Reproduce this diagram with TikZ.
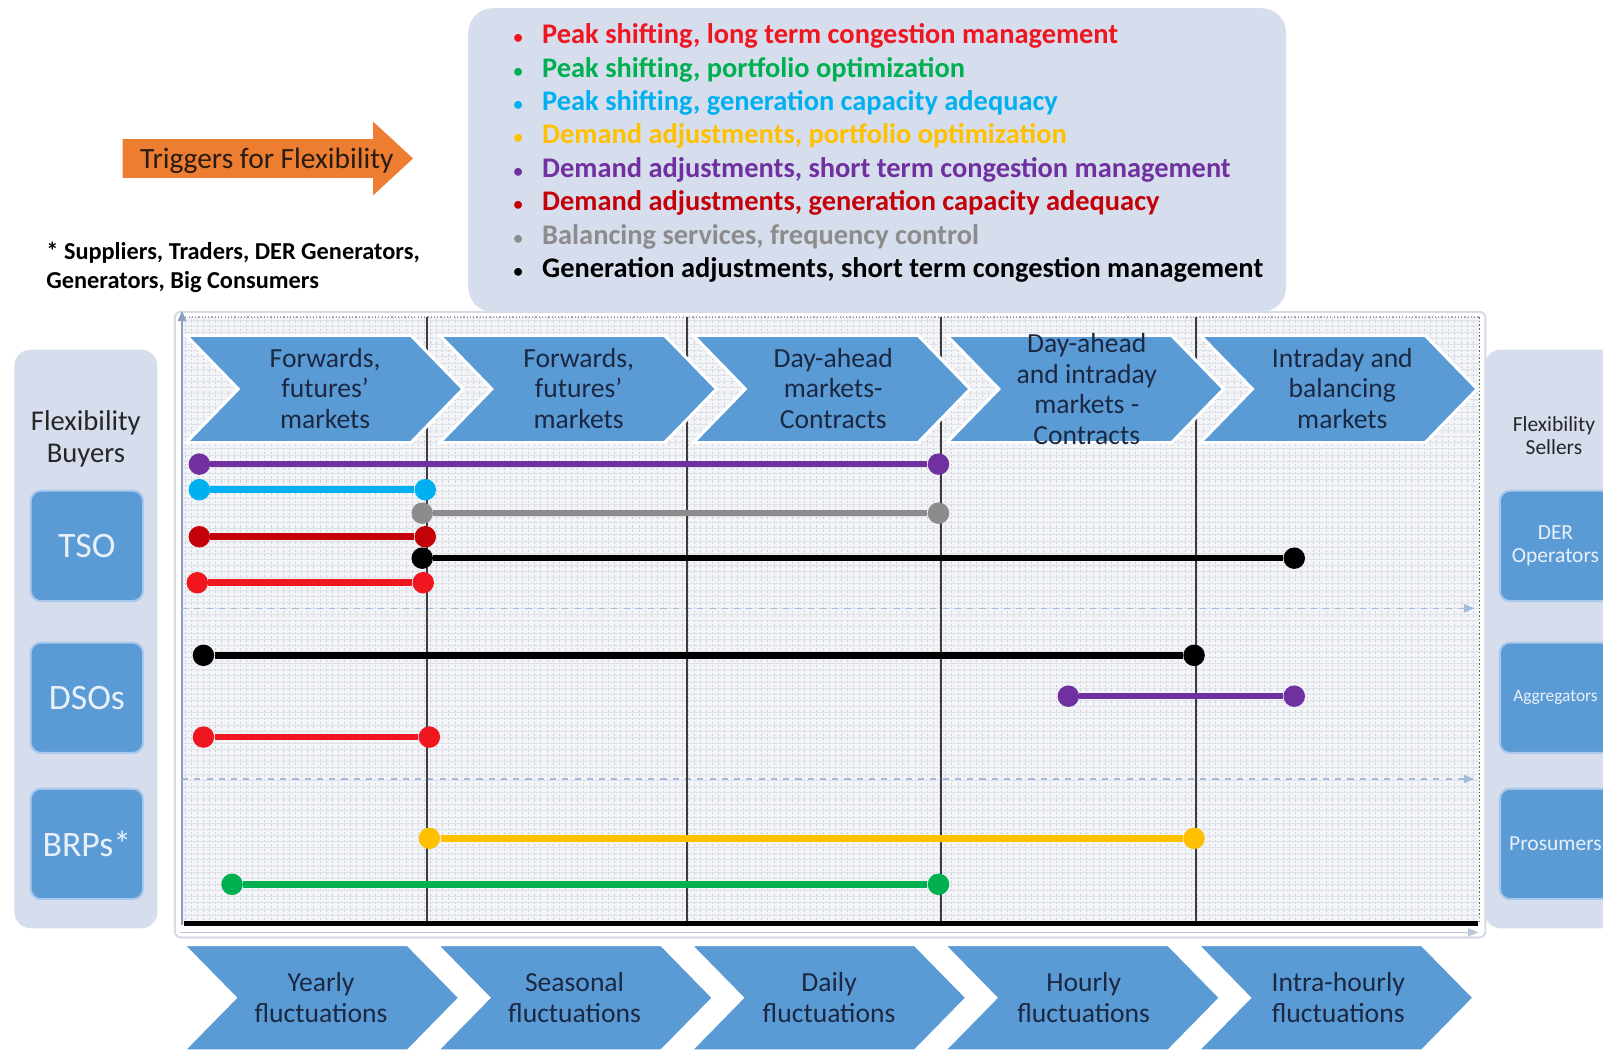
\documentclass[tikz,border=0pt]{standalone}
\usepackage{fontspec}
\setmainfont{Carlito}
\usetikzlibrary{arrows.meta}
\definecolor{panelc}{RGB}{214,222,238}
\definecolor{boxblue}{RGB}{91,155,213}
\definecolor{boxedge}{RGB}{170,200,235}
\definecolor{boxtext}{RGB}{232,240,250}
\definecolor{navy}{RGB}{26,40,66}
\definecolor{darktxt}{RGB}{38,38,38}
\definecolor{orangec}{RGB}{237,125,49}
\definecolor{cred}{RGB}{240,22,32}
\definecolor{cdred}{RGB}{196,0,8}
\definecolor{cgreen}{RGB}{0,176,80}
\definecolor{cblue}{RGB}{0,176,240}
\definecolor{cyellow}{RGB}{255,192,0}
\definecolor{cpurple}{RGB}{112,48,160}
\definecolor{cgray}{RGB}{140,140,140}
\definecolor{gridbg}{RGB}{243,244,247}
\definecolor{gridv}{RGB}{205,208,215}
\definecolor{gridh}{RGB}{222,225,231}
\definecolor{chartedge}{RGB}{214,220,230}
\definecolor{axisc}{RGB}{140,160,190}
\definecolor{sepc}{RGB}{160,186,216}
\definecolor{vlinec}{RGB}{60,60,60}
\begin{document}
\begin{tikzpicture}[x=0.5pt,y=-0.5pt,
  legtext/.style={anchor=mid west, inner sep=0pt, font=\bfseries\fontsize{13.9}{15}\selectfont},
  legbullet/.style={anchor=mid, inner sep=0pt, font=\bfseries\fontsize{9}{10}\selectfont},
  foot/.style={anchor=mid west, inner sep=0pt, text=black, font=\bfseries\fontsize{11.9}{14}\selectfont},
  buyerbox/.style={rectangle, rounded corners=5pt, fill=boxblue, draw=boxedge, line width=1pt,
     minimum width=55pt, minimum height=54pt, inner sep=0pt, text=boxtext, align=center},
  sellerbox/.style={buyerbox, minimum width=54.5pt},
  paneltext/.style={align=center, text=darktxt, inner sep=0pt},
  chevshape/.style={fill=boxblue, draw=white, line width=1.5pt, line join=miter},
  chevtext/.style={align=center, text=navy, inner sep=0pt, font=\fontsize{13.5}{15}\selectfont},
  vline/.style={draw=vlinec, line width=1pt},
  sepline/.style={draw=sepc, line width=0.7pt, dashed, -{Triangle[length=5pt,width=4pt]}},
  axisline/.style={draw=axisc, line width=0.7pt, -{Triangle[length=5pt,width=4pt]}},
  dot/.style={circle, inner sep=0pt, minimum size=10.5pt},
  bar/.style={line width=3.2pt}
]
\useasboundingbox (0,0) rectangle (1568,1028);
\fill[white] (0,0) rectangle (1568,1028);

% ---------- legend box ----------
\fill[panelc, rounded corners=12pt] (458,8) rectangle (1258,305);
\node[legbullet, text=cred]    (b1) at (507,38)  {•};
\node[legtext,   text=cred]    (l1) at (530,38)  {Peak shifting, long term congestion management};
\node[legbullet, text=cgreen]  (b2) at (507,71)  {•};
\node[legtext,   text=cgreen]  (l2) at (530,71)  {Peak shifting, portfolio optimization};
\node[legbullet, text=cblue]   (b3) at (507,103) {•};
\node[legtext,   text=cblue]   (l3) at (530,103) {Peak shifting, generation capacity adequacy};
\node[legbullet, text=cyellow] (b4) at (507,136) {•};
\node[legtext,   text=cyellow] (l4) at (530,136) {Demand adjustments, portfolio optimization};
\node[legbullet, text=cpurple] (b5) at (507,169) {•};
\node[legtext,   text=cpurple] (l5) at (530,169) {Demand adjustments, short term congestion management};
\node[legbullet, text=cdred]   (b6) at (507,201) {•};
\node[legtext,   text=cdred]   (l6) at (530,201) {Demand adjustments, generation capacity adequacy};
\node[legbullet, text=cgray]   (b7) at (507,234) {•};
\node[legtext,   text=cgray]   (l7) at (530,234) {Balancing services, frequency control};
\node[legbullet, text=black]   (b8) at (507,267) {•};
\node[legtext,   text=black]   (l8) at (530,267) {Generation adjustments, short term congestion management};

% ---------- triggers arrow ----------
\fill[orangec] (120,136) -- (365,136) -- (365,119) -- (404,155) -- (365,191) -- (365,174) -- (120,174) -- cycle;
\node[inner sep=0pt, text={rgb,255:red,40;green,28;blue,18}, font=\fontsize{14.4}{16}\selectfont] (trig) at (261,157) {Triggers for Flexibility};

% ---------- footnote ----------
\node[foot] (f1) at (45,249) {* Suppliers, Traders, DER Generators,};
\node[foot] (f2) at (45,277) {Generators, Big Consumers};

% ---------- left panel ----------
\fill[panelc, rounded corners=8pt] (14,342) rectangle (154,908);
\node[paneltext, font=\fontsize{14}{15.5}\selectfont] (buyers) at (84,429) {Flexibility\\Buyers};
\node[buyerbox, font=\fontsize{17.5}{20}\selectfont] (tso) at (85,534) {TSO};
\node[buyerbox, font=\fontsize{17.5}{20}\selectfont] (dso) at (85,682.5) {DSOs};
\node[buyerbox, font=\fontsize{17.5}{20}\selectfont] (brp) at (85,825.5) {BRPs*};

% ---------- right panel ----------
\fill[panelc, rounded corners=8pt] (1452,342) rectangle (1610,908);
\node[paneltext, font=\fontsize{10.5}{11.5}\selectfont] (sellers) at (1520,426) {Flexibility\\Sellers};
\node[sellerbox, font=\fontsize{10.5}{11.5}\selectfont] (der) at (1521.5,534) {DER\\Operators};
\node[sellerbox, font=\fontsize{8.5}{10}\selectfont] (agg) at (1521.5,682.5) {Aggregators};
\node[sellerbox, font=\fontsize{10.5}{12}\selectfont] (pro) at (1521.5,825.5) {Prosumers};

% ---------- chart area ----------
\draw[chartedge, fill=white, line width=1pt, rounded corners=3pt] (171,305) rectangle (1453,917);
\fill[gridbg] (178,310) rectangle (1447,905);
\foreach \x in {181,187,...,1445} \draw[gridv, line width=0.35pt, dash pattern=on 1pt off 1pt] (\x,310) -- (\x,903);
\foreach \y in {313,319,...,901} \draw[gridh, line width=0.3pt] (178,\y) -- (1447,\y);
\draw[gray!70, densely dotted, line width=0.6pt] (178,310) -- (1447,310);
\draw[gray!80!black, densely dotted, line width=0.8pt] (1447,310) -- (1447,903);

\coordinate (axb) at (178,905);
\coordinate (axt) at (178,304);
\draw[axisline] (axb) -- (axt);
\coordinate (s1a) at (178,595);
\coordinate (s1b) at (1442,595);
\draw[sepline] (s1a) -- (s1b);
\coordinate (s2a) at (178,762);
\coordinate (s2b) at (1442,762);
\draw[sepline] (s2a) -- (s2b);
\coordinate (xa) at (176,912);
\coordinate (xb) at (1446,912);
\draw[axisline, draw=axisc!60] (xa) -- (xb);

\foreach \x/\n in {418/1,672/2,920/3,1170/4}{
  \coordinate (vt\n) at (\x,310);
  \coordinate (vb\n) at (\x,903);
  \draw[vline] (vt\n) -- (vb\n);
}
\coordinate (tl) at (180,903);
\coordinate (tr) at (1446,903);
\draw[black, line width=2.3pt] (tl) -- (tr);

% ---------- top chevrons ----------
\foreach \x in {182,430,678,926,1174}
  \draw[chevshape] (\x,328) -- ++(220,0) -- ++(51,52.5) -- ++(-51,52.5) -- ++(-220,0) -- ++(51,-52.5) -- cycle;
\node[chevtext] (m1) at (318,380) {Forwards,\\futures’\\markets};
\node[chevtext] (m2) at (566,380) {Forwards,\\futures’\\markets};
\node[chevtext] (m3) at (815,380) {Day-ahead\\markets-\\Contracts};
\node[chevtext] (m4) at (1063,380.5) {Day-ahead\\and intraday\\markets -\\Contracts};
\node[chevtext] (m5) at (1313,380) {Intraday and\\balancing\\markets};

% ---------- bottom chevrons ----------
\foreach \x in {179,427,675,923,1171}
  \draw[chevshape] (\x,924) -- ++(220,0) -- ++(51,52) -- ++(-51,52) -- ++(-220,0) -- ++(51,-52) -- cycle;
\node[chevtext] (t1) at (314,976) {Yearly\\fluctuations};
\node[chevtext] (t2) at (562,976) {Seasonal\\fluctuations};
\node[chevtext] (t3) at (811,976) {Daily\\fluctuations};
\node[chevtext] (t4) at (1060,976) {Hourly\\fluctuations};
\node[chevtext] (t5) at (1309,976) {Intra-hourly\\fluctuations};

% ---------- bars ----------
\node[dot, fill=cpurple] (p1a) at (195,454) {};
\node[dot, fill=cpurple] (p1b) at (918,454) {};
\draw[bar, cpurple] (p1a) -- (p1b);
\node[dot, fill=cblue] (p2a) at (195,479) {};
\node[dot, fill=cblue] (p2b) at (416,479) {};
\draw[bar, cblue] (p2a) -- (p2b);
\node[dot, fill=cgray] (p3a) at (413,502) {};
\node[dot, fill=cgray] (p3b) at (918,502) {};
\draw[bar, cgray] (p3a) -- (p3b);
\node[dot, fill=cdred] (p4a) at (195,525) {};
\node[dot, fill=cdred] (p4b) at (416,525) {};
\draw[bar, cdred] (p4a) -- (p4b);
\node[dot, fill=black] (p5a) at (413,546) {};
\node[dot, fill=black] (p5b) at (1266,546) {};
\draw[bar, black] (p5a) -- (p5b);
\node[dot, fill=cred] (p6a) at (193,570) {};
\node[dot, fill=cred] (p6b) at (414,570) {};
\draw[bar, cred] (p6a) -- (p6b);
\node[dot, fill=black] (p7a) at (199,641) {};
\node[dot, fill=black] (p7b) at (1168,641) {};
\draw[bar, black] (p7a) -- (p7b);
\node[dot, fill=cpurple] (p8a) at (1045,681) {};
\node[dot, fill=cpurple] (p8b) at (1266,681) {};
\draw[bar, cpurple] (p8a) -- (p8b);
\node[dot, fill=cred] (p9a) at (199,721) {};
\node[dot, fill=cred] (p9b) at (420,721) {};
\draw[bar, cred] (p9a) -- (p9b);
\node[dot, fill=cyellow] (p10a) at (420,820) {};
\node[dot, fill=cyellow] (p10b) at (1168,820) {};
\draw[bar, cyellow] (p10a) -- (p10b);
\node[dot, fill=cgreen] (p11a) at (227,865) {};
\node[dot, fill=cgreen] (p11b) at (918,865) {};
\draw[bar, cgreen] (p11a) -- (p11b);
\end{tikzpicture}
\end{document}
